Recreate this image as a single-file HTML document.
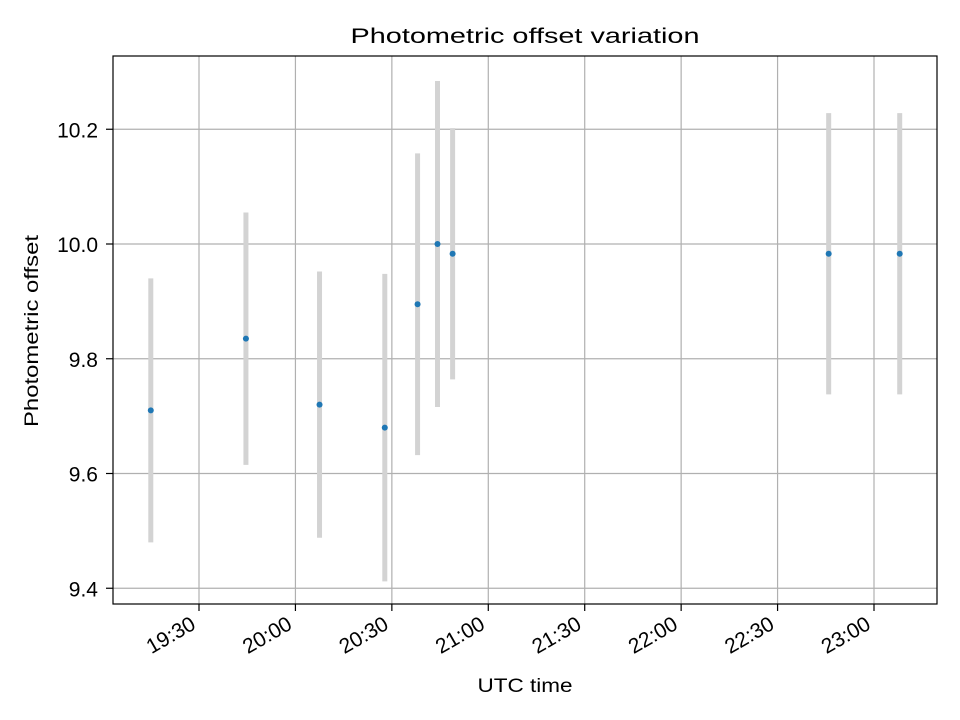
<!DOCTYPE html>
<html><head><meta charset="utf-8"><style>
html,body{margin:0;padding:0;background:#fff;}
svg{display:block;font-family:"Liberation Sans",sans-serif;}
</style></head><body>
<svg id="chart" width="960" height="720" xmlns="http://www.w3.org/2000/svg">
<rect width="960" height="720" fill="#fff"/>
<g id="grid"></g>
<g id="errs"></g>
<g id="pts"></g>
<rect x="113" y="56" width="824" height="548" fill="none" stroke="#000" stroke-width="1.2"/>
<g id="ticks"></g>
<text x="525" y="43" text-anchor="middle" font-size="21" textLength="349" lengthAdjust="spacingAndGlyphs">Photometric offset variation</text>
<text x="525" y="692" text-anchor="middle" font-size="19" textLength="95" lengthAdjust="spacingAndGlyphs">UTC time</text>
<text transform="translate(38,331) rotate(-90)" text-anchor="middle" font-size="19" textLength="192" lengthAdjust="spacingAndGlyphs">Photometric offset</text>
</svg>
<script>
// minutes since 19:00 UTC
const times = [15, 44.6, 67.5, 87.8, 98, 104.2, 108.9, 225.9, 248];
const offsets = [9.71, 9.835, 9.72, 9.68, 9.895, 10.0, 9.983, 9.983, 9.983];
const errors = [0.23, 0.22, 0.232, 0.268, 0.263, 0.284, 0.219, 0.245, 0.245];
const yTicks = [9.4, 9.6, 9.8, 10.0, 10.2];
const yTickLabels = ["9.4", "9.6", "9.8", "10.0", "10.2"];
const xTicks = [30, 60, 90, 120, 150, 180, 210, 240];
const xTickLabels = ["19:30", "20:00", "20:30", "21:00", "21:30", "22:00", "22:30", "23:00"];

const NS = "http://www.w3.org/2000/svg";
function X(m){ return 199 + (m - 30) * (874 - 199) / 210; }
function Y(v){ return 244 - (v - 10) * 573.75; }
function mk(tag, attrs, parent){ const e=document.createElementNS(NS,tag); for(const k in attrs) e.setAttribute(k,attrs[k]); parent.appendChild(e); return e; }
const grid=document.getElementById('grid'), ticks=document.getElementById('ticks'), errs=document.getElementById('errs'), pts=document.getElementById('pts');

xTicks.forEach((t,i)=>{
  const x=X(t);
  const g=mk('line',{x1:x,x2:x,y1:56,y2:604,stroke:'#b0b0b0','stroke-width':1.2},grid);
  
  
  const tk=mk('line',{x1:x,x2:x,y1:604,y2:611,stroke:'#000','stroke-width':1.2},ticks);
  
  
  const lb=mk('text',{x:0,y:0,'text-anchor':'end','font-size':21,transform:`translate(${x-2},${628}) rotate(-30)`},ticks);
  lb.textContent=xTickLabels[i];
  
  
});
yTicks.forEach((v,i)=>{
  const y=Y(v);
  const g=mk('line',{x1:113,x2:937,y1:y,y2:y,stroke:'#b0b0b0','stroke-width':1.2},grid);
  
  
  const tk=mk('line',{x1:106,x2:113,y1:y,y2:y,stroke:'#000','stroke-width':1.2},ticks);
  
  
  const lb=mk('text',{x:98,y:y+8,'text-anchor':'end','font-size':21},ticks);
  lb.textContent=yTickLabels[i];
  
  
});
times.forEach((t,i)=>{
  const x=X(t);
  const e=mk('line',{x1:x,x2:x,y1:Y(offsets[i]-errors[i]),y2:Y(offsets[i]+errors[i]),stroke:'#d3d3d3','stroke-width':5},errs);
  
  
  const p=mk('circle',{cx:x,cy:Y(offsets[i]),r:3,fill:'#1f77b4'},pts);
  
  
});
</script>
</body></html>
